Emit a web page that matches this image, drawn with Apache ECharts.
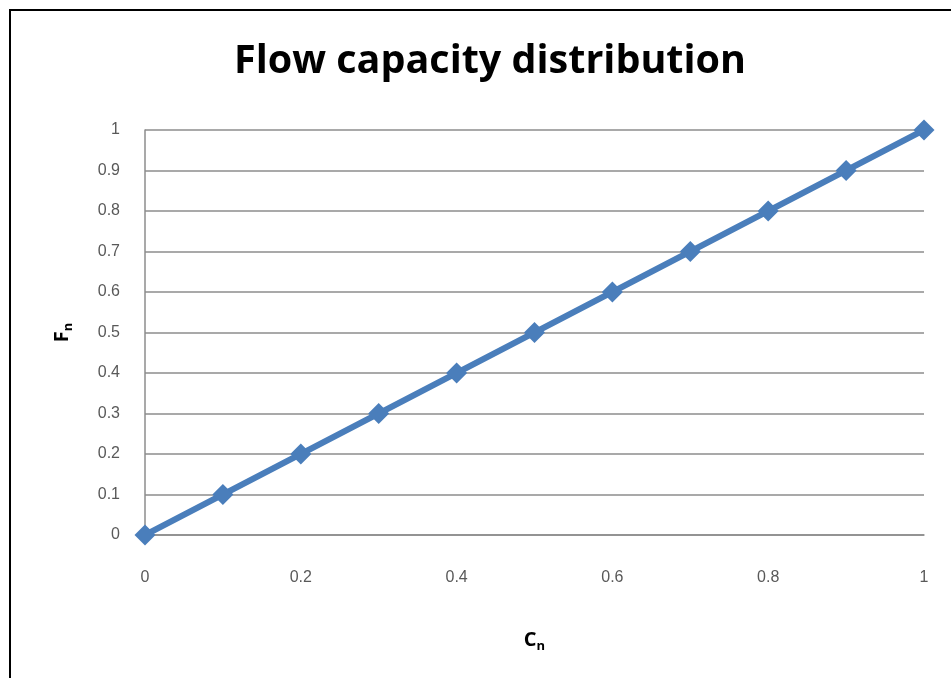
<!DOCTYPE html>
<html>
<head>
<meta charset="utf-8">
<style>
  html, body { margin: 0; padding: 0; background: #ffffff; }
  #chart { width: 951px; height: 678px; }
</style>
<script src="https://cdn.jsdelivr.net/npm/echarts@6/dist/echarts.min.js"></script>
</head>
<body>
<div id="chart"></div>
<script>
// Normalised cumulative capacity (Cn) vs normalised flow (Fn)
const cn = [0, 0.1, 0.2, 0.3, 0.4, 0.5, 0.6, 0.7, 0.8, 0.9, 1];
const fn = [0, 0.1, 0.2, 0.3, 0.4, 0.5, 0.6, 0.7, 0.8, 0.9, 1];

const points = cn.map((c, i) => [c, fn[i]]);

const chart = echarts.init(document.getElementById('chart'), null, { renderer: 'canvas' });

const labelFont = { fontFamily: '"Liberation Sans", Arial, sans-serif', fontSize: 16, color: '#595959' };
const nameRich = {
  m: { fontFamily: '"Open Sans", sans-serif', fontWeight: 'bold', fontSize: 20, color: '#000' },
  s: { fontFamily: '"Open Sans", sans-serif', fontWeight: 'bold', fontSize: 13, color: '#000', padding: [12, 0, 0, 0] }
};

chart.setOption({
  animation: false,
  backgroundColor: '#ffffff',
  title: {
    text: 'Flow capacity distribution',
    left: 485,
    textAlign: 'center',
    top: 37,
    textStyle: { fontFamily: '"Open Sans", sans-serif', fontWeight: 'bold', fontSize: 39.5, color: '#000000' }
  },
  graphic: [{
    type: 'rect',
    shape: { x: 10, y: 10, width: 960, height: 700 },
    style: { fill: 'none', stroke: '#000000', lineWidth: 2 },
    silent: true
  }],
  grid: { left: 145, right: 27, top: 130, bottom: 143 },
  xAxis: {
    type: 'value',
    min: 0, max: 1, interval: 0.2,
    name: '{m|C}{s|n}',
    nameLocation: 'middle',
    nameGap: 93,
    nameTextStyle: { rich: nameRich },
    axisLine: { show: true, lineStyle: { color: '#8c8c8c', width: 1.5 } },
    axisTick: { show: false },
    splitLine: { show: false },
    axisLabel: Object.assign({ margin: 35 }, labelFont)
  },
  yAxis: {
    type: 'value',
    min: 0, max: 1, interval: 0.1,
    name: '{m|F}{s|n}',
    nameLocation: 'middle',
    nameGap: 70,
    nameRotate: 90,
    nameTextStyle: { rich: nameRich },
    axisLine: { show: true, lineStyle: { color: '#8c8c8c', width: 1.5 } },
    axisTick: { show: false },
    splitLine: { show: true, lineStyle: { color: '#8c8c8c', width: 1.5 } },
    axisLabel: Object.assign({ margin: 25 }, labelFont)
  },
  series: [{
    type: 'line',
    data: points,
    symbol: 'diamond',
    symbolSize: 21,
    lineStyle: { color: '#4a7ebb', width: 6 },
    itemStyle: { color: '#4a7ebb' }
  }]
});
</script>
</body>
</html>
